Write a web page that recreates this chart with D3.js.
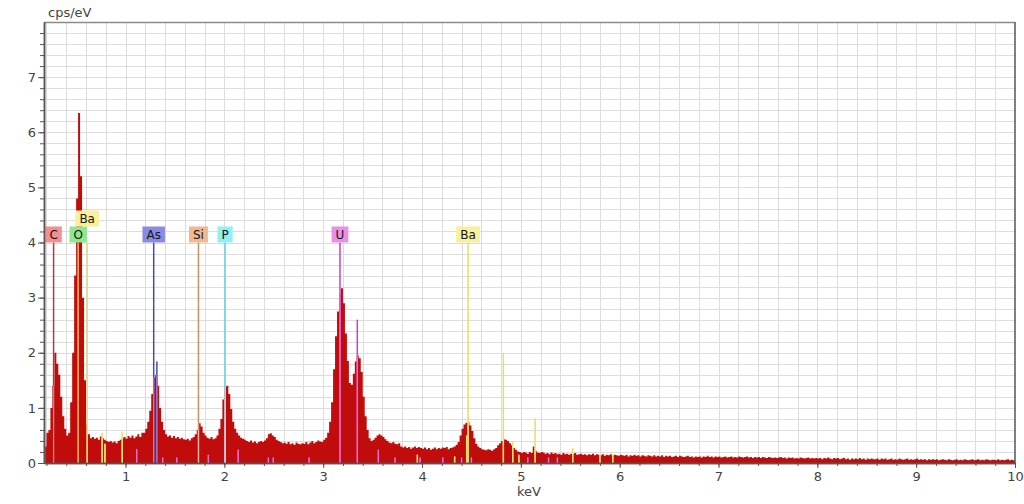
<!DOCTYPE html>
<html>
<head>
<meta charset="utf-8">
<script src="https://cdnjs.cloudflare.com/ajax/libs/d3/7.8.5/d3.min.js"></script>
<style>
body { margin: 0; background: #fff; }
text { font-family: "DejaVu Sans", Verdana, sans-serif; }
</style>
</head>
<body>
<svg id="chart" width="1024" height="504"></svg>
<script>
// spectrum: counts per 0.02 keV channel starting at 0.18 keV
const binStart = 0.18, binWidth = 0.02;
const counts = [
    0.30, 0.55, 0.60, 1.00, 1.40, 2.00, 1.80, 1.60, 1.20, 0.85,
    0.62, 0.50, 0.55, 1.10, 2.00, 3.40, 4.80, 6.35, 5.20, 3.00,
    1.50, 0.70, 0.52, 0.45, 0.47, 0.44, 0.46, 0.42, 0.48, 0.45,
    0.42, 0.40, 0.38, 0.40, 0.37, 0.39, 0.36, 0.40, 0.42, 0.45,
    0.47, 0.44, 0.49, 0.46, 0.50, 0.45, 0.48, 0.52, 0.47, 0.55,
    0.55, 0.62, 0.75, 0.95, 1.25, 1.55, 1.60, 1.40, 1.00, 0.75,
    0.60, 0.52, 0.48, 0.50, 0.46, 0.49, 0.45, 0.47, 0.44, 0.46,
    0.43, 0.42, 0.44, 0.41, 0.45, 0.47, 0.52, 0.60, 0.72, 0.66,
    0.55, 0.50, 0.46, 0.44, 0.47, 0.43, 0.45, 0.50, 0.62, 0.80,
    1.15, 1.38, 1.40, 1.25, 0.98, 0.75, 0.62, 0.55, 0.50, 0.46,
    0.44, 0.42, 0.40, 0.38, 0.41, 0.37, 0.39, 0.36, 0.38, 0.40,
    0.38, 0.41, 0.45, 0.52, 0.54, 0.50, 0.47, 0.42, 0.40, 0.38,
    0.36, 0.37, 0.35, 0.38, 0.34, 0.36, 0.33, 0.37, 0.35, 0.34,
    0.36, 0.35, 0.38, 0.34, 0.37, 0.40, 0.36, 0.38, 0.41, 0.39,
    0.38, 0.42, 0.46, 0.55, 0.75, 1.10, 1.70, 2.30, 2.75, 3.05,
    3.17, 2.90, 2.35, 1.85, 1.45, 1.42, 1.62, 1.84, 1.95, 1.90,
    1.65, 1.20, 0.85, 0.60, 0.45, 0.40, 0.42, 0.46, 0.50, 0.52,
    0.50, 0.47, 0.43, 0.40, 0.37, 0.36, 0.38, 0.35, 0.34, 0.36,
    0.30, 0.28, 0.30, 0.27, 0.29, 0.26, 0.28, 0.30, 0.27, 0.29,
    0.27, 0.26, 0.28, 0.25, 0.27, 0.24, 0.26, 0.28, 0.25, 0.27,
    0.26, 0.28, 0.27, 0.29, 0.25, 0.27, 0.28, 0.30, 0.33, 0.38,
    0.50, 0.62, 0.70, 0.73, 0.74, 0.68, 0.58, 0.45, 0.35, 0.30,
    0.27, 0.25, 0.24, 0.23, 0.25, 0.24, 0.22, 0.25, 0.27, 0.32,
    0.36, 0.40, 0.43, 0.42, 0.40, 0.36, 0.32, 0.27, 0.24, 0.21,
    0.20, 0.18, 0.20, 0.19, 0.17, 0.20, 0.18, 0.30, 0.22, 0.19,
    0.18, 0.20, 0.19, 0.17, 0.18, 0.16, 0.19, 0.17, 0.18, 0.16,
    0.17, 0.15, 0.18, 0.16, 0.17, 0.15, 0.17, 0.16, 0.18, 0.15,
    0.16, 0.17, 0.15, 0.16, 0.14, 0.16, 0.15, 0.17, 0.14, 0.16,
    0.15, 0.14, 0.16, 0.13, 0.15, 0.14, 0.16, 0.13, 0.15, 0.14,
    0.13, 0.15, 0.14, 0.13, 0.15, 0.12, 0.14, 0.13, 0.15, 0.13,
    0.14, 0.12, 0.14, 0.13, 0.12, 0.14, 0.13, 0.12, 0.14, 0.12,
    0.13, 0.12, 0.14, 0.11, 0.13, 0.12, 0.13, 0.11, 0.12, 0.13,
    0.11, 0.13, 0.12, 0.11, 0.12, 0.13, 0.11, 0.12, 0.10, 0.12,
    0.11, 0.12, 0.10, 0.12, 0.11, 0.13, 0.11, 0.12, 0.10, 0.12,
    0.11, 0.12, 0.10, 0.11, 0.12, 0.10, 0.11, 0.12, 0.10, 0.11,
    0.10, 0.12, 0.11, 0.10, 0.11, 0.12, 0.10, 0.11, 0.09, 0.11,
    0.10, 0.11, 0.09, 0.11, 0.10, 0.09, 0.11, 0.10, 0.09, 0.10,
    0.09, 0.10, 0.11, 0.09, 0.10, 0.08, 0.10, 0.09, 0.10, 0.08,
    0.09, 0.08, 0.10, 0.09, 0.08, 0.09, 0.10, 0.08, 0.09, 0.08,
    0.09, 0.08, 0.09, 0.07, 0.09, 0.08, 0.10, 0.08, 0.07, 0.09,
    0.08, 0.09, 0.07, 0.08, 0.09, 0.07, 0.08, 0.06, 0.08, 0.07,
    0.08, 0.07, 0.09, 0.07, 0.08, 0.06, 0.08, 0.07, 0.08, 0.07,
    0.07, 0.08, 0.06, 0.08, 0.07, 0.08, 0.06, 0.07, 0.08, 0.06,
    0.07, 0.06, 0.08, 0.07, 0.06, 0.07, 0.08, 0.06, 0.07, 0.06,
    0.07, 0.08, 0.06, 0.07, 0.06, 0.07, 0.05, 0.07, 0.06, 0.07,
    0.06, 0.07, 0.05, 0.06, 0.07, 0.06, 0.05, 0.07, 0.06, 0.05,
    0.06, 0.07, 0.05, 0.06, 0.05, 0.07, 0.06, 0.05, 0.06, 0.07,
    0.05, 0.06, 0.07, 0.05, 0.06, 0.05, 0.07, 0.06, 0.05, 0.06,
    0.06, 0.05, 0.07, 0.05, 0.06, 0.05, 0.06, 0.07, 0.05, 0.06,
    0.05
];

// labelled element lines
const elements = ["C", "O", "Ba", "As", "Si", "P", "U", "Ba"];
const elementEnergy = [0.272, 0.521, 0.612, 1.285, 1.738, 2.007, 3.170, 4.466];
const elementRaised = [false, false, true, false, false, false, false, false];
const labelLevel = 4.0;

// unlabelled secondary lines
const minorElement = ["P", "Ba", "Ba", "Ba", "U", "As", "U", "U", "U", "U", "U", "U", "U",
    "U", "U", "U", "Ba", "U", "Ba", "U", "U", "Ba", "U", "Ba", "Ba", "Ba", "U", "Ba", "U", "U",
    "Ba", "Ba", "Ba"];
const minorEnergy = [0.180, 0.763, 0.792, 0.967, 1.113, 1.317, 1.376, 1.518, 1.838, 2.140, 2.445,
    2.495, 2.857, 3.345, 3.558, 3.727, 3.953, 3.980, 4.330, 4.210, 4.400, 4.452, 4.500, 4.823,
    4.918, 4.980, 5.070, 5.144, 5.280, 5.370, 5.525, 5.800, 5.930];
const minorHeight = [0.60, 0.55, 0.35, 0.57, 0.25, 1.84, 0.10, 0.10, 0.15, 0.24, 0.10,
    0.10, 0.10, 2.60, 0.24, 0.10, 0.15, 0.10, 0.12, 0.10, 0.10, 0.50, 0.10, 2.00,
    0.39, 0.15, 0.10, 0.81, 0.10, 0.10, 0.27, 0.15, 0.15];

const lineColor = {C: "#a84040", O: "#d09048", Ba: "#e6de6a", As: "#4a4aa4", Si: "#c89060", P: "#5cd4e4", U: "#c444c4"};
const lineInFill = {C: "#e07878", O: "#e8aa62", Ba: "#f2e070", As: "#aa8ad8", Si: "#f0b8a0", P: "#f0dcec", U: "#ff72d2"};
const labelColor = {C: "#f09090", O: "#8ee68e", Ba: "#f8f09a", As: "#8a8ae2", Si: "#f2b890", P: "#90f0f2", U: "#e890e8"};

const xMajor = [1, 2, 3, 4, 5, 6, 7, 8, 9, 10];
const yMajor = [0, 1, 2, 3, 4, 5, 6, 7];

const margin = {top: 22, right: 9, bottom: 41, left: 44};
const width = 1024, height = 504;

const svg = d3.select("#chart");

const x = d3.scaleLinear().domain([0.175, 10]).range([margin.left, width - margin.right]);
const y = d3.scaleLinear().domain([0, 8]).range([height - margin.bottom, margin.top]);

const xMinor = d3.range(1, 50).map(k => k * 0.2);
const yMinor = d3.range(1, 40).map(k => k * 0.2);

// grid
svg.append("g").selectAll("line").data(xMinor).join("line")
    .attr("x1", d => Math.round(x(d)) + 0.5).attr("x2", d => Math.round(x(d)) + 0.5)
    .attr("y1", y(8)).attr("y2", y(0))
    .attr("stroke", "#dcdcdc");
svg.append("g").selectAll("line").data(yMinor).join("line")
    .attr("x1", x(0.175)).attr("x2", x(10))
    .attr("y1", d => Math.round(y(d)) + 0.5).attr("y2", d => Math.round(y(d)) + 0.5)
    .attr("stroke", "#dcdcdc");

// spectrum
const spectrum = counts.map((v, i) => ({e: binStart + i * binWidth, v: v}));
spectrum.push({e: 10, v: counts[counts.length - 1]});

const area = d3.area()
    .curve(d3.curveStepAfter)
    .x(d => x(d.e))
    .y0(y(0))
    .y1(d => y(d.v));

svg.append("clipPath").attr("id", "specClip")
    .append("path").attr("d", area(spectrum));

svg.append("path")
    .attr("d", area(spectrum))
    .attr("fill", "#c00c0a");

// element lines, darker above the spectrum, lighter inside it
const lines = elements.map((el, i) => ({el: el, e: elementEnergy[i], h: labelLevel}))
    .concat(minorElement.map((el, i) => ({el: el, e: minorEnergy[i], h: minorHeight[i]})));

svg.append("g").selectAll("line").data(lines).join("line")
    .attr("x1", d => x(d.e)).attr("x2", d => x(d.e))
    .attr("y1", d => y(d.h)).attr("y2", y(0))
    .attr("stroke", d => lineColor[d.el])
    .attr("stroke-width", 1.5);

svg.append("g").attr("clip-path", "url(#specClip)")
    .selectAll("line").data(lines).join("line")
    .attr("x1", d => x(d.e)).attr("x2", d => x(d.e))
    .attr("y1", d => y(d.h)).attr("y2", y(0))
    .attr("stroke", d => lineInFill[d.el])
    .attr("stroke-width", 1.2);

// labels
const boxH = 16;
const labels = svg.append("g").selectAll("g")
    .data(elements.map((el, i) => ({el: el, e: elementEnergy[i], up: elementRaised[i]})))
    .join("g")
    .attr("transform", d => "translate(" + x(d.e) + "," + (y(labelLevel) - (d.up ? boxH : 0)) + ")");

labels.append("rect").attr("class", "box");
labels.append("text")
    .text(d => d.el)
    .attr("text-anchor", "middle")
    .attr("y", -4)
    .attr("font-size", 12)
    .attr("fill", "#151515");

labels.each(function() {
    const g = d3.select(this);
    const w = g.select("text").node().getComputedTextLength() + 8;
    g.select("rect")
        .attr("x", -w / 2).attr("y", -boxH)
        .attr("width", w).attr("height", boxH)
        .attr("fill", d => labelColor[d.el]);
    g.select("text").raise();
});

// frame
svg.append("line")
    .attr("x1", x(0.175)).attr("x2", x(10)).attr("y1", y(8) + 0.5).attr("y2", y(8) + 0.5)
    .attr("stroke", "#8a8a8a").attr("stroke-width", 1.5);
svg.append("line")
    .attr("x1", x(10)).attr("x2", x(10)).attr("y1", y(8)).attr("y2", y(0))
    .attr("stroke", "#555").attr("stroke-width", 1.5);

// axes
function styleAxis(g) {
    g.select(".domain").attr("stroke", "#555").attr("stroke-width", 1.5);
    g.selectAll(".tick line").attr("stroke", "#555");
    g.selectAll(".tick text")
        .attr("font-family", "'DejaVu Sans', Verdana, sans-serif")
        .attr("font-size", 13)
        .attr("fill", "#444");
}

svg.append("g")
    .attr("transform", "translate(0," + y(0) + ")")
    .call(d3.axisBottom(x).tickValues(xMinor).tickSize(3).tickFormat("").tickSizeOuter(0))
    .call(styleAxis);
svg.append("g")
    .attr("transform", "translate(0," + y(0) + ")")
    .call(d3.axisBottom(x).tickValues(xMajor).tickSize(5).tickPadding(4).tickFormat(d3.format("d")).tickSizeOuter(0))
    .call(styleAxis);

svg.append("g")
    .attr("transform", "translate(" + x(0.175) + ",0)")
    .call(d3.axisLeft(y).tickValues(yMinor).tickSize(4).tickFormat("").tickSizeOuter(0))
    .call(styleAxis);
svg.append("g")
    .attr("transform", "translate(" + x(0.175) + ",0)")
    .call(d3.axisLeft(y).tickValues(yMajor).tickSize(6).tickPadding(2).tickFormat(d3.format("d")).tickSizeOuter(0))
    .call(styleAxis);

// axis titles
svg.append("text")
    .attr("x", 48).attr("y", 17)
    .attr("font-size", 13).attr("fill", "#444")
    .text("cps/eV");
svg.append("text")
    .attr("x", 529).attr("y", 496)
    .attr("text-anchor", "middle")
    .attr("font-size", 13).attr("fill", "#444")
    .text("keV");
</script>
</body>
</html>
